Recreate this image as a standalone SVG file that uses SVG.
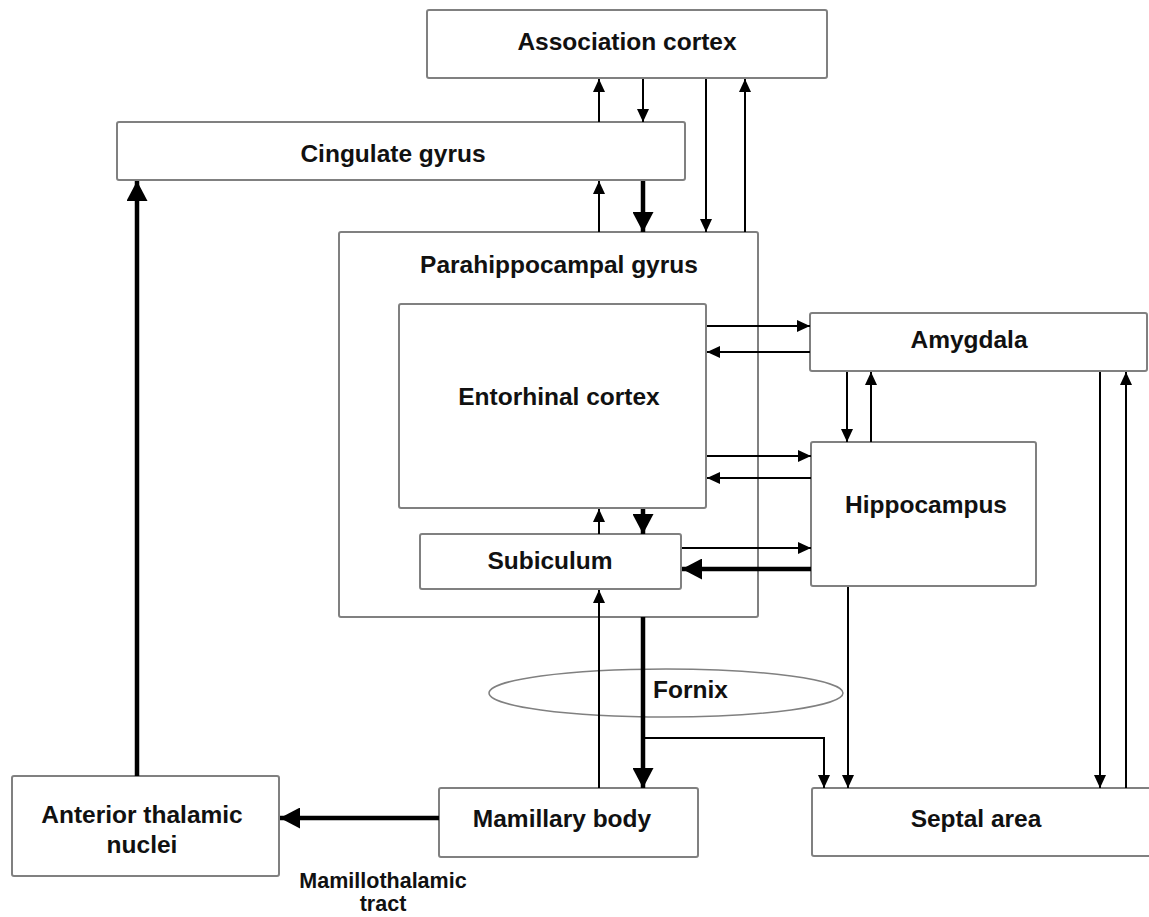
<svg xmlns="http://www.w3.org/2000/svg" width="1149" height="917" viewBox="0 0 1149 917">
<style>
.box{fill:#fff;stroke:#808080;stroke-width:2}
.lbl{font-family:"Liberation Sans",Arial,sans-serif;font-weight:bold;font-size:24.5px;fill:#111;text-anchor:middle}
.thin{stroke:#000;stroke-width:2;fill:none;marker-end:url(#ah)}
.thick{stroke:#000;stroke-width:4.5;fill:none;marker-end:url(#ahb)}
</style>
<defs>
<marker id="ah" markerUnits="userSpaceOnUse" markerWidth="13" markerHeight="12" refX="13" refY="6" orient="auto"><path d="M0,0 L13,6 L0,12 z" fill="#000"/></marker>
<marker id="ahb" markerUnits="userSpaceOnUse" markerWidth="20" markerHeight="21" refX="20" refY="10.5" orient="auto"><path d="M0,0 L20,10.5 L0,21 z" fill="#000"/></marker>
</defs>
<rect width="1149" height="917" fill="#fff"/>
<g id="parahippocampal"><rect class="box" x="339" y="232" width="419" height="385" rx="2"/><text class="lbl" x="559" y="273">Parahippocampal gyrus</text></g>
<g id="association"><rect class="box" x="427" y="10" width="400" height="68" rx="2"/><text class="lbl" x="627" y="50">Association cortex</text></g>
<g id="cingulate"><rect class="box" x="117" y="122" width="568" height="58" rx="2"/><text class="lbl" x="393" y="162">Cingulate gyrus</text></g>
<g id="entorhinal"><rect class="box" x="399" y="304" width="307" height="204" rx="2"/><text class="lbl" x="559" y="405">Entorhinal cortex</text></g>
<g id="subiculum"><rect class="box" x="420" y="534" width="261" height="55" rx="2"/><text class="lbl" x="550" y="569">Subiculum</text></g>
<g id="amygdala"><rect class="box" x="810" y="313" width="337" height="58" rx="2"/><text class="lbl" x="969" y="348">Amygdala</text></g>
<g id="hippocampus"><rect class="box" x="811" y="442" width="225" height="144" rx="2"/><text class="lbl" x="926" y="513">Hippocampus</text></g>
<g id="mamillary"><rect class="box" x="439" y="788" width="259" height="69" rx="2"/><text class="lbl" x="562" y="827">Mamillary body</text></g>
<g id="septal"><rect class="box" x="812" y="788" width="345" height="68" rx="2"/><text class="lbl" x="976" y="827">Septal area</text></g>
<g id="anterior"><rect class="box" x="12" y="776" width="267" height="100" rx="2"/><text class="lbl" x="142" y="823">Anterior thalamic</text><text class="lbl" x="142" y="853">nuclei</text></g>
<g id="fornix"><ellipse cx="666" cy="693" rx="177" ry="24" fill="none" stroke="#808080" stroke-width="1.5"/><text class="lbl" x="653" y="698" style="text-anchor:start">Fornix</text></g>
<g id="connectors">
<line class="thin" x1="599" y1="122" x2="599" y2="79"/>
<line class="thin" x1="643" y1="79" x2="643" y2="122"/>
<line class="thin" x1="706" y1="79" x2="706" y2="232"/>
<line class="thin" x1="745" y1="232" x2="745" y2="79"/>
<line class="thin" x1="599" y1="232" x2="599" y2="181"/>
<line class="thick" x1="643" y1="181" x2="643" y2="232"/>
<line class="thin" x1="707" y1="326" x2="810" y2="326"/>
<line class="thin" x1="810" y1="352" x2="707" y2="352"/>
<line class="thin" x1="707" y1="456" x2="811" y2="456"/>
<line class="thin" x1="811" y1="478" x2="707" y2="478"/>
<line class="thin" x1="847" y1="372" x2="847" y2="442"/>
<line class="thin" x1="871" y1="442" x2="871" y2="372"/>
<line class="thin" x1="1100" y1="372" x2="1100" y2="788"/>
<line class="thin" x1="1126" y1="788" x2="1126" y2="372"/>
<line class="thin" x1="599" y1="534" x2="599" y2="509"/>
<line class="thick" x1="643" y1="509" x2="643" y2="534"/>
<line class="thin" x1="682" y1="548" x2="811" y2="548"/>
<line class="thick" x1="811" y1="569" x2="682" y2="569"/>
<line class="thin" x1="599" y1="788" x2="599" y2="590"/>
<line class="thick" x1="643" y1="617" x2="643" y2="788"/>
<polyline class="thin" points="643,738 824,738 824,788"/>
<line class="thin" x1="848" y1="587" x2="848" y2="788"/>
<line class="thick" x1="439" y1="818" x2="280" y2="818"/>
<line class="thick" x1="137" y1="776" x2="137" y2="181"/>
</g>
<text class="lbl" x="383" y="888" style="font-size:21.5px">Mamillothalamic</text>
<text class="lbl" x="383" y="911" style="font-size:21.5px">tract</text>
</svg>
